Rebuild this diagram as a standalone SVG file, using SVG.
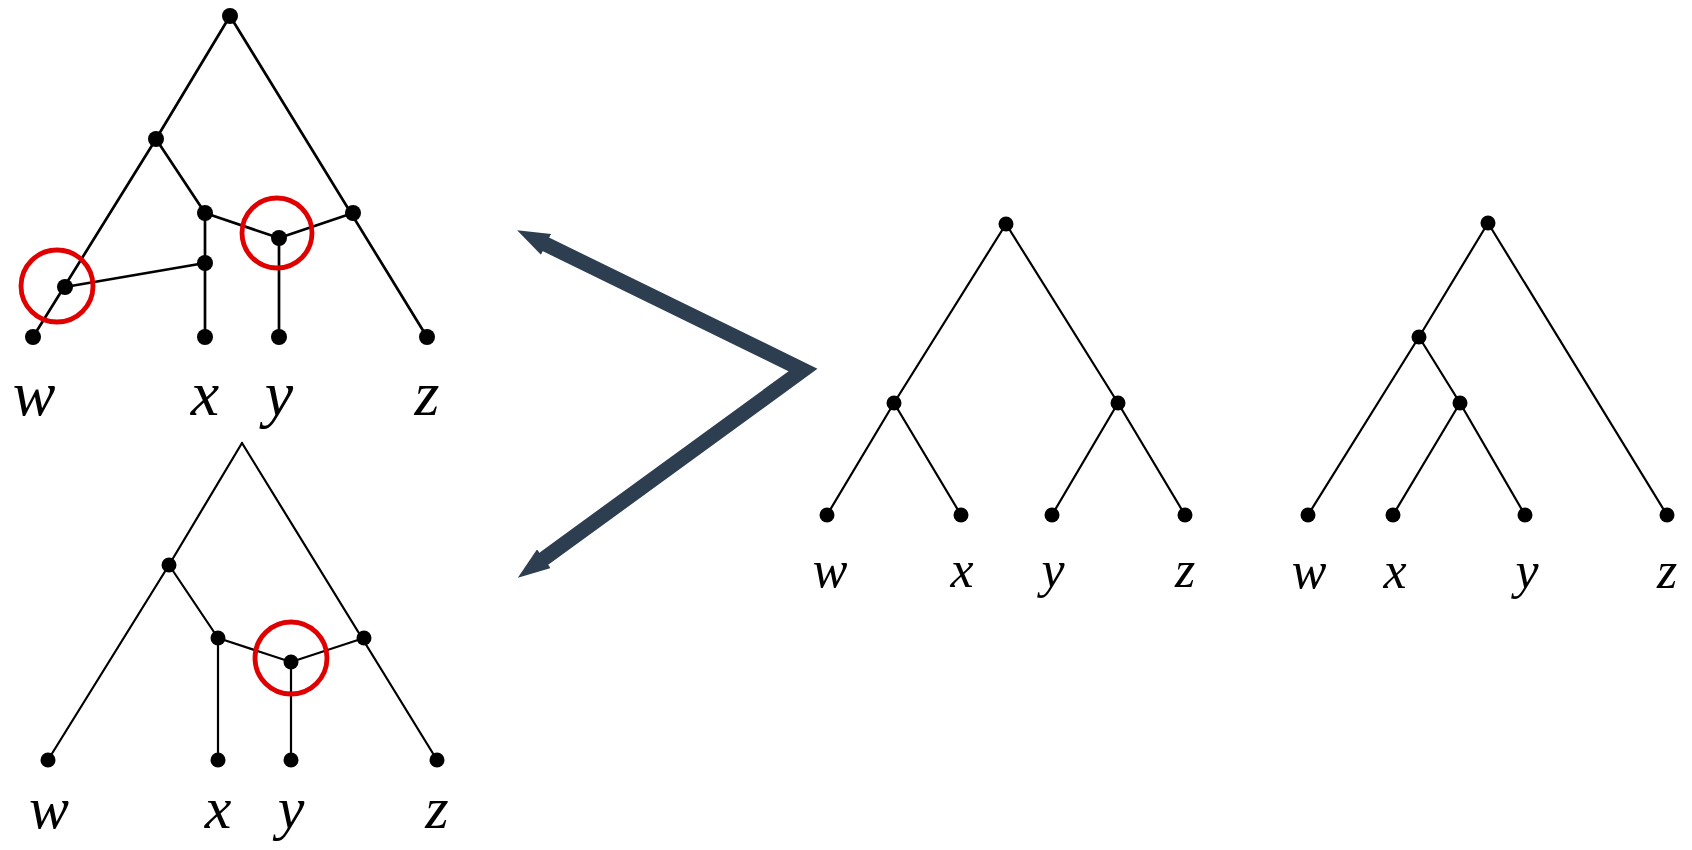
<svg xmlns="http://www.w3.org/2000/svg" width="1692" height="850" viewBox="0 0 1692 850">
<style>
.e{stroke:#000;stroke-width:2.7;fill:none;stroke-linecap:round}
.e2{stroke:#000;stroke-width:2.2;fill:none;stroke-linecap:round}
.d{fill:#000}
.ring{fill:none;stroke:#e00000;stroke-width:4.8}
.lbl{font-family:"Liberation Serif","DejaVu Serif",serif;font-style:italic;fill:#000;text-anchor:middle}
.arrow{stroke:#2c3e50;stroke-width:15;fill:none;stroke-linejoin:miter;stroke-miterlimit:10}
</style>
<defs>
<marker id="ah" viewBox="0 0 10 10" refX="0.3" refY="5" markerWidth="2.15" markerHeight="1.55" orient="auto-start-reverse" markerUnits="strokeWidth" preserveAspectRatio="none">
<path d="M0,0 L10,5 L0,10 z" fill="#2c3e50"/>
</marker>
</defs>
<rect width="1692" height="850" fill="#fff"/>

<g id="connectors">
<g id="tl-edges" class="e">
<line x1="230" y1="16" x2="156" y2="139"/>
<line x1="156" y1="139" x2="33" y2="337"/>
<line x1="156" y1="139" x2="205" y2="213"/>
<line x1="205" y1="213" x2="205" y2="337"/>
<line x1="205" y1="213" x2="279" y2="238"/>
<line x1="279" y1="238" x2="353" y2="213"/>
<line x1="279" y1="238" x2="279" y2="337"/>
<line x1="230" y1="16" x2="427" y2="337"/>
<line x1="65" y1="287" x2="205" y2="263"/>
</g>
<g id="bl-edges" class="e2">
<line x1="242" y1="443" x2="169" y2="565"/>
<line x1="169" y1="565" x2="48" y2="760"/>
<line x1="169" y1="565" x2="218" y2="638"/>
<line x1="218" y1="638" x2="218" y2="760"/>
<line x1="218" y1="638" x2="291" y2="662"/>
<line x1="291" y1="662" x2="364" y2="638"/>
<line x1="291" y1="662" x2="291" y2="760"/>
<line x1="242" y1="443" x2="437" y2="760"/>
</g>
<g id="r1-edges" class="e2">
<line x1="1006" y1="224" x2="894" y2="403"/>
<line x1="1006" y1="224" x2="1118" y2="403"/>
<line x1="894" y1="403" x2="827" y2="515"/>
<line x1="894" y1="403" x2="961" y2="515"/>
<line x1="1118" y1="403" x2="1052" y2="515"/>
<line x1="1118" y1="403" x2="1185" y2="515"/>
</g>
<g id="r2-edges" class="e2">
<line x1="1488" y1="223" x2="1419" y2="337"/>
<line x1="1419" y1="337" x2="1308" y2="515"/>
<line x1="1419" y1="337" x2="1460" y2="403"/>
<line x1="1460" y1="403" x2="1393" y2="515"/>
<line x1="1460" y1="403" x2="1525" y2="515"/>
<line x1="1488" y1="223" x2="1667" y2="515"/>
</g>
<path id="arrow" class="arrow" d="M545.2,244 L803,370 L543.1,559.3" marker-start="url(#ah)" marker-end="url(#ah)"/>
</g>

<g id="tl-net">
<circle class="d" cx="230" cy="16" r="8"/>
<circle class="d" cx="156" cy="139" r="8"/>
<circle class="d" cx="205" cy="213" r="8"/>
<circle class="d" cx="279" cy="238" r="8"/>
<circle class="d" cx="353" cy="213" r="8"/>
<circle class="d" cx="205" cy="263" r="8"/>
<circle class="d" cx="65" cy="287" r="8"/>
<circle class="d" cx="33" cy="337" r="8"/>
<circle class="d" cx="205" cy="337" r="8"/>
<circle class="d" cx="279" cy="337" r="8"/>
<circle class="d" cx="427" cy="337" r="8"/>
<circle class="ring" cx="57" cy="286" r="36"/>
<circle class="ring" cx="277" cy="233" r="35"/>
<text class="lbl" x="34" y="415" font-size="64">w</text>
<text class="lbl" x="205" y="415" font-size="64">x</text>
<text class="lbl" x="279" y="415" font-size="64">y</text>
<text class="lbl" x="427" y="415" font-size="64">z</text>
</g>

<g id="bl-net">
<circle class="d" cx="169" cy="565" r="7.5"/>
<circle class="d" cx="218" cy="638" r="7.5"/>
<circle class="d" cx="291" cy="662" r="7.5"/>
<circle class="d" cx="364" cy="638" r="7.5"/>
<circle class="d" cx="48" cy="760" r="7.5"/>
<circle class="d" cx="218" cy="760" r="7.5"/>
<circle class="d" cx="291" cy="760" r="7.5"/>
<circle class="d" cx="437" cy="760" r="7.5"/>
<circle class="ring" cx="291" cy="658" r="36"/>
<text class="lbl" x="49" y="828" font-size="60">w</text>
<text class="lbl" x="218" y="828" font-size="60">x</text>
<text class="lbl" x="291" y="828" font-size="60">y</text>
<text class="lbl" x="437" y="828" font-size="60">z</text>
</g>

<g id="r1-tree">
<circle class="d" cx="1006" cy="224" r="7.5"/>
<circle class="d" cx="894" cy="403" r="7.5"/>
<circle class="d" cx="1118" cy="403" r="7.5"/>
<circle class="d" cx="827" cy="515" r="7.5"/>
<circle class="d" cx="961" cy="515" r="7.5"/>
<circle class="d" cx="1052" cy="515" r="7.5"/>
<circle class="d" cx="1185" cy="515" r="7.5"/>
<text class="lbl" x="830" y="587" font-size="52">w</text>
<text class="lbl" x="962" y="587" font-size="52">x</text>
<text class="lbl" x="1053" y="587" font-size="52">y</text>
<text class="lbl" x="1185" y="587" font-size="52">z</text>
</g>

<g id="r2-tree">
<circle class="d" cx="1488" cy="223" r="7.5"/>
<circle class="d" cx="1419" cy="337" r="7.5"/>
<circle class="d" cx="1460" cy="403" r="7.5"/>
<circle class="d" cx="1308" cy="515" r="7.5"/>
<circle class="d" cx="1393" cy="515" r="7.5"/>
<circle class="d" cx="1525" cy="515" r="7.5"/>
<circle class="d" cx="1667" cy="515" r="7.5"/>
<text class="lbl" x="1309" y="588" font-size="52">w</text>
<text class="lbl" x="1395" y="588" font-size="52">x</text>
<text class="lbl" x="1527" y="588" font-size="52">y</text>
<text class="lbl" x="1667" y="588" font-size="52">z</text>
</g>
</svg>
